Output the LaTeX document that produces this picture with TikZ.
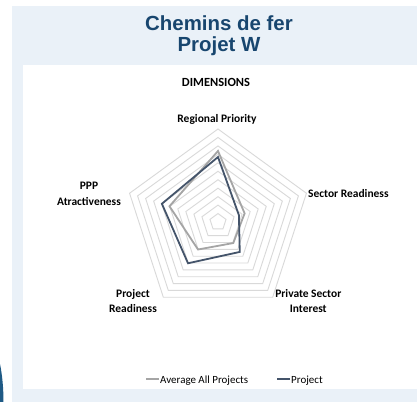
\documentclass[tikz,border=0pt]{standalone}
\usepackage{fontspec}
\setmainfont{Carlito}
\newfontfamily\titlefont{Liberation Sans}
\usetikzlibrary{calc}
\definecolor{panelblue}{HTML}{EAF1F8}
\definecolor{titleblue}{HTML}{18466F}
\definecolor{projcol}{HTML}{44546A}
\definecolor{avgcol}{HTML}{A5A5A5}
\definecolor{gridcol}{HTML}{D9D9D9}
\definecolor{accent}{HTML}{1F5A85}
\begin{document}
\begin{tikzpicture}[x=1bp,y=-1bp,
  titletext/.style={font=\titlefont\fontsize{20.5}{20}\selectfont\bfseries, text=titleblue, anchor=base, inner sep=0pt},
  axislabel/.style={font=\fontsize{11.5}{15}\selectfont\bfseries, anchor=base, inner sep=0pt},
  ring/.style={draw=gridcol, line width=0.9bp},
  series/.style={line width=1.8bp, line join=miter},
  legendtext/.style={font=\fontsize{11}{13}\selectfont, anchor=base west, inner sep=0pt}]
\useasboundingbox (0,0) rectangle (417,402);
% panels
\fill[panelblue] (12,6) rectangle (417,402);
\fill[white] (23,65) rectangle (417,389);
\fill[accent] (0,364) .. controls (2.5,376) and (3.5,390) .. (3.5,402) -- (0,402) -- cycle;
% title
\node[titletext] (title1) at (219,30.5) {Chemins de fer};
\node[titletext] (title2) at (219,51.5) {Projet W};
\node[axislabel, font=\fontsize{12.5}{15}\selectfont\bfseries] (dims) at (216,86) {DIMENSIONS};
% radar
\coordinate (c) at (218,222);
\foreach \k in {1,...,11}{
  \draw[ring] ($(c)+(-90:{\k*93/11})$) -- ($(c)+(-18:{\k*93/11})$) -- ($(c)+(54:{\k*93/11})$)
    -- ($(c)+(126:{\k*93/11})$) -- ($(c)+(-162:{\k*93/11})$) -- cycle;
}
% average series
\coordinate (a1) at ($(c)+(-90:71)$);
\coordinate (a2) at ($(c)+(-18:28)$);
\coordinate (a3) at ($(c)+(54:26)$);
\coordinate (a4) at ($(c)+(126:34)$);
\coordinate (a5) at ($(c)+(-162:51)$);
\draw[series, avgcol] (a1) -- (a2) -- (a3) -- (a4) -- (a5) -- cycle;
% project series
\coordinate (p1) at ($(c)+(-90:65)$);
\coordinate (p2) at ($(c)+(-18:22)$);
\coordinate (p3) at ($(c)+(54:37)$);
\coordinate (p4) at ($(c)+(126:51)$);
\coordinate (p5) at ($(c)+(-162:59)$);
\draw[series, projcol] (p1) -- (p2) -- (p3) -- (p4) -- (p5) -- cycle;
% axis labels
\node[axislabel] (rp) at (217,122) {Regional Priority};
\node[axislabel, anchor=base west] (sr) at (308,197) {Sector Readiness};
\node[axislabel] (psi1) at (308.3,297.5) {Private Sector};
\node[axislabel] (psi2) at (308.3,312.5) {Interest};
\node[axislabel] (pr1) at (133,297.5) {Project};
\node[axislabel] (pr2) at (133,312.5) {Readiness};
\node[axislabel] (ppp1) at (89,189.5) {PPP};
\node[axislabel] (ppp2) at (89,205) {Atractiveness};
% legend
\coordinate (la1) at (146,379);
\coordinate (la2) at (159,379);
\draw[avgcol, line width=1.8bp] (la1) -- (la2);
\node[legendtext] (lavg) at (160,383) {Average All Projects};
\coordinate (lp1) at (277,379);
\coordinate (lp2) at (290,379);
\draw[projcol, line width=1.8bp] (lp1) -- (lp2);
\node[legendtext] (lproj) at (291,383) {Project};
\end{tikzpicture}
\end{document}
